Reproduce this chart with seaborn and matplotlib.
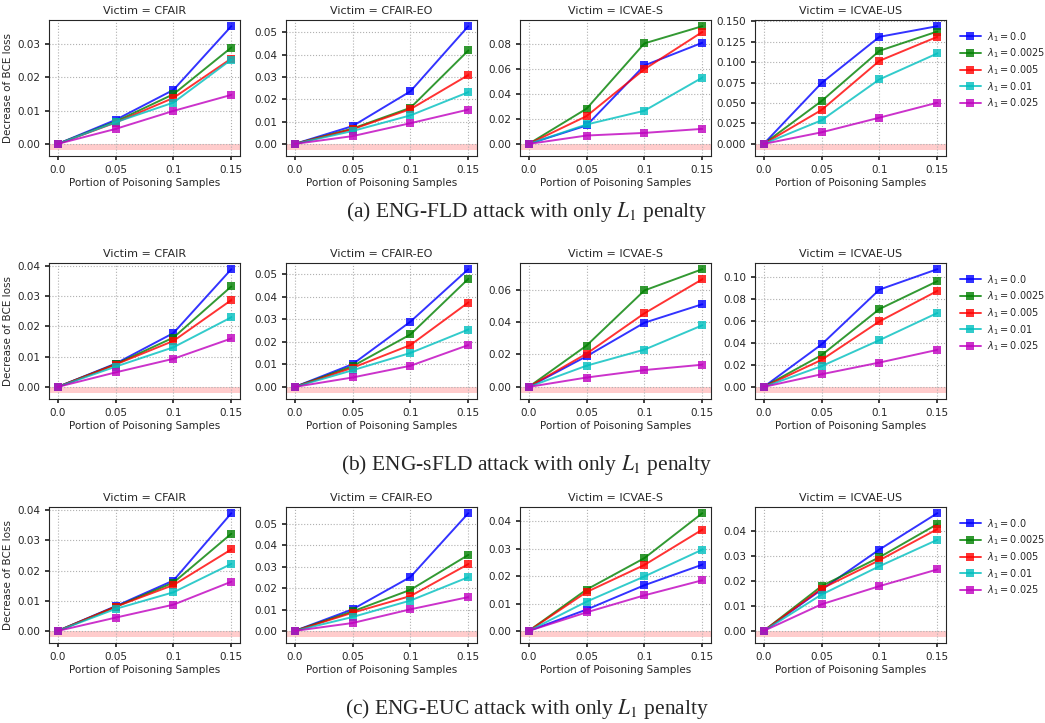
import pandas as pd
import matplotlib
matplotlib.use("Agg")
import matplotlib.pyplot as plt
from matplotlib.ticker import MaxNLocator
import seaborn as sns

portions = [0.0, 0.05, 0.1, 0.15]
portion_labels = ["0.0", "0.05", "0.1", "0.15"]
lambdas = ["0.0", "0.0025", "0.005", "0.01", "0.025"]
victims = ["CFAIR", "CFAIR-EO", "ICVAE-S", "ICVAE-US"]
colors = ["#0000ff", "#008000", "#ff0000", "#00bfbf", "#bf00bf"]
captions = [
    "(a) ENG-FLD attack with only $L_1$ penalty",
    "(b) ENG-sFLD attack with only $L_1$ penalty",
    "(c) ENG-EUC attack with only $L_1$ penalty",
]

# one list per lambda, values at each portion
fld_cfair = [[0, 0.0072, 0.0162, 0.0353],
             [0, 0.0067, 0.0149, 0.0289],
             [0, 0.0064, 0.0138, 0.0256],
             [0, 0.0065, 0.0124, 0.0253],
             [0, 0.0045, 0.0099, 0.0147]]
fld_cfair_eo = [[0, 0.0080, 0.0236, 0.0528],
                [0, 0.0069, 0.0162, 0.0419],
                [0, 0.0066, 0.0156, 0.0309],
                [0, 0.0058, 0.0128, 0.0232],
                [0, 0.0035, 0.0093, 0.0154]]
fld_icvae_s = [[0, 0.0147, 0.0626, 0.0807],
               [0, 0.0281, 0.0802, 0.0939],
               [0, 0.0222, 0.0596, 0.0893],
               [0, 0.0155, 0.0265, 0.0529],
               [0, 0.0067, 0.0088, 0.0120]]
fld_icvae_us = [[0, 0.0744, 0.1309, 0.1439],
                [0, 0.0524, 0.1138, 0.1374],
                [0, 0.0415, 0.1016, 0.1309],
                [0, 0.0289, 0.0789, 0.1106],
                [0, 0.0142, 0.0321, 0.0504]]

sfld_cfair = [[0, 0.0077, 0.0178, 0.0389],
              [0, 0.0075, 0.0163, 0.0332],
              [0, 0.0074, 0.0152, 0.0287],
              [0, 0.0067, 0.0131, 0.0230],
              [0, 0.0048, 0.0093, 0.0160]]
sfld_cfair_eo = [[0, 0.0101, 0.0290, 0.0523],
                 [0, 0.0092, 0.0233, 0.0480],
                 [0, 0.0085, 0.0186, 0.0375],
                 [0, 0.0074, 0.0151, 0.0255],
                 [0, 0.0042, 0.0094, 0.0186]]
sfld_icvae_s = [[0, 0.0189, 0.0396, 0.0510],
                [0, 0.0255, 0.0595, 0.0726],
                [0, 0.0205, 0.0454, 0.0664],
                [0, 0.0131, 0.0230, 0.0380],
                [0, 0.0058, 0.0104, 0.0137]]
sfld_icvae_us = [[0, 0.0385, 0.0882, 0.1067],
                 [0, 0.0288, 0.0706, 0.0958],
                 [0, 0.0245, 0.0594, 0.0870],
                 [0, 0.0188, 0.0424, 0.0670],
                 [0, 0.0115, 0.0221, 0.0336]]

euc_cfair = [[0, 0.0082, 0.0167, 0.0390],
             [0, 0.0080, 0.0160, 0.0322],
             [0, 0.0080, 0.0152, 0.0270],
             [0, 0.0073, 0.0128, 0.0222],
             [0, 0.0044, 0.0087, 0.0163]]
euc_cfair_eo = [[0, 0.0101, 0.0252, 0.0550],
                [0, 0.0091, 0.0192, 0.0355],
                [0, 0.0085, 0.0163, 0.0312],
                [0, 0.0065, 0.0142, 0.0251],
                [0, 0.0037, 0.0101, 0.0158]]
euc_icvae_s = [[0, 0.0078, 0.0167, 0.0242],
               [0, 0.0151, 0.0266, 0.0430],
               [0, 0.0142, 0.0241, 0.0370],
               [0, 0.0107, 0.0199, 0.0297],
               [0, 0.0068, 0.0130, 0.0185]]
euc_icvae_us = [[0, 0.0166, 0.0327, 0.0473],
                [0, 0.0180, 0.0296, 0.0429],
                [0, 0.0170, 0.0284, 0.0409],
                [0, 0.0146, 0.0260, 0.0366],
                [0, 0.0107, 0.0180, 0.0247]]

rows = [
    [fld_cfair, fld_cfair_eo, fld_icvae_s, fld_icvae_us],
    [sfld_cfair, sfld_cfair_eo, sfld_icvae_s, sfld_icvae_us],
    [euc_cfair, euc_cfair_eo, euc_icvae_s, euc_icvae_us],
]

sns.set_theme(style="ticks", color_codes=False, rc={
    "font.size": 7.5, "axes.titlesize": 8, "axes.labelsize": 7.5,
    "xtick.labelsize": 7.5, "ytick.labelsize": 7.5, "legend.fontsize": 7,
    "axes.linewidth": 0.8, "xtick.major.size": 3, "ytick.major.size": 3,
})
plt.rcParams["font.family"] = ["DejaVu Sans"]

W, H = 1045, 723
fig = plt.figure(figsize=(W / 100, H / 100), dpi=100)

col_left = [49, 286, 520, 755]
row_top = [20, 263, 507]
ax_w, ax_h = 191, 136
caption_y = [212, 465, 709]


def to_frame(panel):
    recs = []
    for lam, vals in zip(lambdas, panel):
        for p, v in zip(portions, vals):
            recs.append({"portion": p, "loss": v, "lam": rf"$\lambda_1 = {lam}$"})
    return pd.DataFrame(recs)


for r, panels in enumerate(rows):
    for c, panel in enumerate(panels):
        ax = fig.add_axes([col_left[c] / W, 1 - (row_top[r] + ax_h) / H,
                           ax_w / W, ax_h / H])
        df = to_frame(panel)
        sns.lineplot(data=df, x="portion", y="loss", hue="lam",
                     palette=colors, marker="s", markersize=5.5,
                     markeredgewidth=0, linewidth=1.4, alpha=0.8,
                     legend=(c == 3), ax=ax)
        lo = ax.get_ylim()[0]
        ax.axhspan(lo, 0, color="red", alpha=0.2, lw=0, zorder=0)
        ax.yaxis.set_major_locator(MaxNLocator(nbins=8, steps=[1, 2, 2.5, 5, 10]))
        ax.set_xticks(portions)
        ax.set_xticklabels(portion_labels)
        ax.grid(True, linestyle=":", color="#b0b0b0", linewidth=0.8)
        ax.set_axisbelow(True)
        ax.set_title(f"Victim = {victims[c]}", pad=4)
        ax.set_xlabel("Portion of Poisoning Samples", labelpad=2)
        if c == 0:
            ax.set_ylabel("Decrease of BCE loss", labelpad=3)
        else:
            ax.set_ylabel("")
        if c == 3:
            handles, labels = ax.get_legend_handles_labels()
            ax.legend(handles, labels, loc="upper left",
                      bbox_to_anchor=(1.02, 1.0), frameon=False,
                      handlelength=2.2, handletextpad=0.6,
                      labelspacing=0.3, borderaxespad=0.6)
    fig.text(0.504, 1 - caption_y[r] / H, captions[r], ha="center",
             va="center", fontsize=15.5, family="Liberation Serif",
             math_fontfamily="stix")

fig.savefig("out.png", dpi=100)
